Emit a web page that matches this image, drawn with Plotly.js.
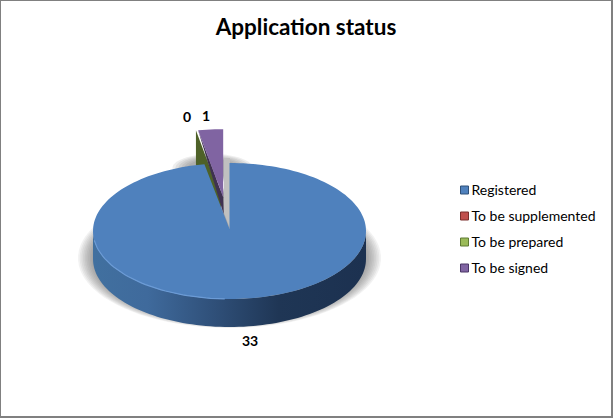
<!DOCTYPE html>
<html>
<head>
<meta charset="utf-8">
<script src="https://cdn.plot.ly/plotly-3.0.1.min.js"></script>
<style>html,body{margin:0;padding:0;background:#fff;overflow:hidden}#chart{width:613px;height:418px}</style>
</head>
<body>
<div id="chart"></div>
<script>
const categories = ["Registered", "To be supplemented", "To be prepared", "To be signed"];
const values = [33, 0, 0, 1];
const shownLabels = ["33", "", "0", "1"];
const swatchColors = ["#4f81bd", "#c0504d", "#9bbb59", "#8064a2"];
const swatchEdges = ["#2f5078", "#7a2f2d", "#5f7a33", "#4a3666"];

const CX = 229.5, CY = 231, RX = 136.5, RY = 68, DEPTH = 28, EXPLODE = 0.5;
const total = values.reduce((a, b) => a + b, 0);
const regEnd = 360 * values[0] / total;
const rad = d => d * Math.PI / 180;
const ax = (d, cx) => cx + RX * Math.sin(rad(d));
const ay = (d, cy) => cy - RY * Math.cos(rad(d));

function arc(from, to, cx, cy, dy) {
  const xs = [], ys = [];
  const n = Math.max(2, Math.ceil(Math.abs(to - from) / 2));
  for (let i = 0; i <= n; i++) {
    const d = from + (to - from) * i / n;
    xs.push(ax(d, cx)); ys.push(ay(d, cy) + (dy || 0));
  }
  return [xs, ys];
}
function poly(xs, ys, color, extra) {
  return Object.assign({type: "scatter", mode: "none", x: xs, y: ys, fill: "toself",
    fillcolor: color, hoverinfo: "skip", showlegend: false}, extra || {});
}
function ellipse(cx, cy, rx, ry) {
  const xs = [], ys = [];
  for (let d = 0; d <= 360; d += 4) {
    xs.push(cx + rx * Math.sin(rad(d))); ys.push(cy - ry * Math.cos(rad(d)));
  }
  return [xs, ys];
}

const traces = [];

// soft shadow under the pie
for (let i = 0; i < 9; i++) {
  const e = ellipse(CX, CY + 27, RX + 15 - i * 1.7, RY + 2 - i * 0.6);
  traces.push(poly(e[0], e[1], "rgba(90,90,90,0.08)"));
}
// soft shadow behind the exploded slices
for (let i = 0; i < 6; i++) {
  const e = ellipse(CX - 17, 168, 40 - i * 3, 14 - i * 1);
  traces.push(poly(e[0], e[1], "rgba(90,90,90,0.1)"));
}

// gray strip showing through the gap between the slices
traces.push(poly([CX - 5.5, CX + 0.5, CX + 0.5, CX - 5.5], [158, 158, CY - 2, CY - 18], "#c0c0c0"));

// exploded slices
const signedMid = regEnd + (360 - regEnd) / 2;
const sx = CX + RX * EXPLODE * Math.sin(rad(signedMid));
const sy = CY - RY * EXPLODE * Math.cos(rad(signedMid));
const gx = sx - 2.2, gy = sy;

// zero-value slice: only its cut wall shows
traces.push(poly(
  [gx, ax(regEnd, gx), ax(regEnd, gx), gx],
  [gy, ay(regEnd, gy), ay(regEnd, gy) + 34, gy + 34], "#4e6128"));

// signed slice: wall then face
traces.push(poly(
  [sx, ax(regEnd, sx), ax(regEnd, sx) + 1.5, sx + 0.5],
  [sy, ay(regEnd, sy), ay(regEnd, sy) + 5, sy + 17], "#3f3151"));
{
  const a = arc(regEnd, 360, sx, sy);
  traces.push(poly([sx].concat(a[0]), [sy].concat(a[1]), "#8064a2"));
}

// registered slice wall
{
  const top = arc(90, 270, CX, CY);
  const bot = arc(270, 90, CX, CY, DEPTH);
  traces.push(poly(top[0].concat(bot[0]), top[1].concat(bot[1]), "#385d8a", {
    fillgradient: {type: "horizontal", colorscale: [
      [0, "#41709f"], [0.2, "#3f6a9c"], [0.45, "#2f4f78"], [0.68, "#1f3655"], [1, "#1c3150"]]}
  }));
}
// registered slice face
{
  const a = arc(0, regEnd, CX, CY);
  traces.push(poly([CX].concat(a[0]), [CY - 2].concat(a[1]), "#4f81bd"));
}
// rim highlight
{
  const a = arc(262, 182, CX, CY);
  traces.push({type: "scatter", mode: "lines", x: a[0], y: a[1],
    line: {color: "#6b9bd6", width: 1.2}, hoverinfo: "skip", showlegend: false});
}

// legend entries
const legendX = 464.5, legendTextX = 471.5, legendTop = 190, legendStep = 26;
categories.forEach((name, i) => {
  traces.push({type: "scatter", mode: "markers", x: [legendX], y: [legendTop + i * legendStep],
    name: name, hoverinfo: "skip", showlegend: false,
    marker: {symbol: "square", size: 8, color: swatchColors[i], line: {color: swatchEdges[i], width: 1}}});
  traces.push({type: "scatter", mode: "text", x: [legendTextX], y: [legendTop + 1 + i * legendStep],
    text: [name], textposition: "middle right", name: name, hoverinfo: "skip", showlegend: false,
    textfont: {family: "Lato, sans-serif", size: 14, color: "#000"}});
});

const labelPos = [[250, 340], null, [187, 116], [206, 115]];
const annotations = [];
shownLabels.forEach((t, i) => {
  if (!t) return;
  annotations.push({x: labelPos[i][0], y: labelPos[i][1], xref: "x", yref: "y", text: "<b>" + t + "</b>",
    showarrow: false, font: {family: "Lato, sans-serif", size: 14, color: "#000"}});
});

const border = "#808080";
const layout = {
  width: 613, height: 418,
  margin: {l: 0, r: 0, t: 0, b: 0, pad: 0},
  paper_bgcolor: "#fff", plot_bgcolor: "rgba(0,0,0,0)",
  title: {text: "<b>Application status</b>", x: 306 / 613, xanchor: "center", y: 1 - 27 / 418, yanchor: "middle",
    font: {family: "Lato, sans-serif", size: 22.5, color: "#000"}},
  xaxis: {range: [0, 613], visible: false, fixedrange: true},
  yaxis: {range: [418, 0], visible: false, fixedrange: true},
  showlegend: false,
  annotations: annotations,
  shapes: [
    {type: "rect", xref: "x", yref: "y", x0: 0, x1: 1, y0: 0, y1: 418, fillcolor: border, line: {width: 0}},
    {type: "rect", xref: "x", yref: "y", x0: 0, x1: 613, y0: 0, y1: 1, fillcolor: border, line: {width: 0}},
    {type: "rect", xref: "x", yref: "y", x0: 611, x1: 613, y0: 0, y1: 418, fillcolor: border, line: {width: 0}},
    {type: "rect", xref: "x", yref: "y", x0: 0, x1: 613, y0: 416, y1: 418, fillcolor: border, line: {width: 0}}
  ]
};
Plotly.newPlot("chart", traces, layout, {displayModeBar: false, staticPlot: true});
</script>
</body>
</html>
